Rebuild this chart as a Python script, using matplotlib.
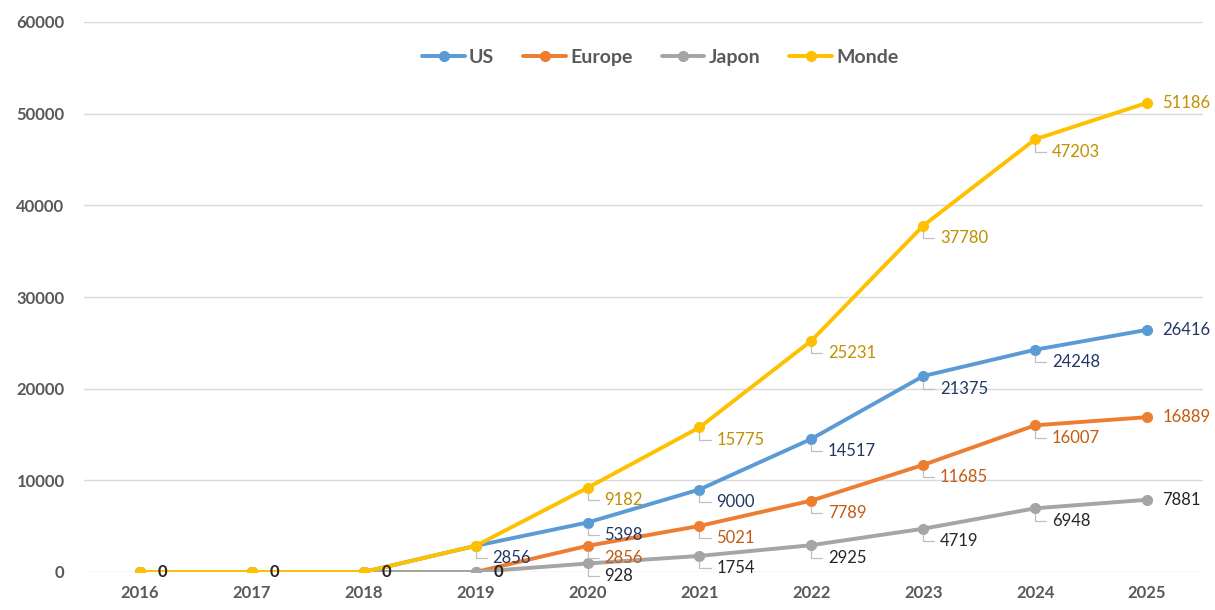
import matplotlib
matplotlib.use("Agg")
import matplotlib.pyplot as plt

years = ["2016", "2017", "2018", "2019", "2020", "2021", "2022", "2023", "2024", "2025"]
us = [0, 0, 0, 2856, 5398, 9000, 14517, 21375, 24248, 26416]
europe = [0, 0, 0, 0, 2856, 5021, 7789, 11685, 16007, 16889]
japon = [0, 0, 0, 0, 928, 1754, 2925, 4719, 6948, 7881]
monde = [0, 0, 0, 2856, 9182, 15775, 25231, 37780, 47203, 51186]
series_names = ["US", "Europe", "Japon", "Monde"]
yticks = [0, 10000, 20000, 30000, 40000, 50000, 60000]

line_colors = ["#5B9BD5", "#ED7D31", "#A5A5A5", "#FFC000"]
label_colors = ["#203864", "#C55A11", "#262626", "#BF9000"]
# which (series, index) labels are hidden
hidden = {("US", 0), ("US", 1), ("US", 2), ("Europe", 0), ("Europe", 1), ("Europe", 2),
          ("Europe", 3), ("Monde", 0), ("Monde", 1), ("Monde", 2), ("Monde", 3)}

plt.rcParams['font.family'] = ['Lato', 'DejaVu Sans']

fig = plt.figure(figsize=(12.15, 6.1), dpi=100)
ax = fig.add_axes([84 / 1215, 38 / 610, 1119 / 1215, 550 / 610])

x = list(range(len(years)))
data = [us, europe, japon, monde]
for name, vals, lc, tc in zip(series_names, data, line_colors, label_colors):
    ax.plot(x, vals, color=lc, lw=2.8, marker='o', ms=7, label=name, zorder=3,
            solid_capstyle='round')
    for i, v in enumerate(vals):
        if (name, i) in hidden:
            continue
        if v == 0:
            ax.annotate(str(v), (i, v), xytext=(13, 0), textcoords='offset points',
                        ha='left', va='center', fontsize=12, color=tc, fontweight='bold', zorder=4)
        elif i == len(vals) - 1:
            ax.annotate(str(v), (i, v), xytext=(11, 0), textcoords='offset points',
                        ha='left', va='center', fontsize=12, color=tc, zorder=4)
        else:
            ax.annotate(str(v), (i, v), xytext=(12, -9), textcoords='offset points',
                        ha='left', va='center', fontsize=12, color=tc, zorder=4,
                        arrowprops=dict(arrowstyle='-', color='#BFBFBF', lw=0.9,
                                        connectionstyle='angle,angleA=0,angleB=90',
                                        shrinkA=2, shrinkB=4))

ax.set_xlim(-0.5, len(years) - 0.5)
ax.set_ylim(0, 60000)
ax.set_xticks(x)
ax.set_xticklabels(years)
ax.set_yticks(yticks)
ax.set_yticklabels([str(t) for t in yticks])
ax.tick_params(length=0, labelsize=12, labelcolor='#595959', pad=9)
ax.tick_params(axis='y', pad=14)
for lab in ax.get_xticklabels() + ax.get_yticklabels():
    lab.set_fontweight('bold')
for s in ax.spines.values():
    s.set_visible(False)
ax.grid(axis='y', color='#D9D9D9', lw=1)
ax.set_axisbelow(True)

leg = ax.legend(loc='center', bbox_to_anchor=(0.515, 0.936), ncol=4, frameon=False,
                handlelength=2.2, columnspacing=1.5, handletextpad=0.2,
                prop={'weight': 'bold', 'size': 14})
for t in leg.get_texts():
    t.set_color('#595959')

fig.savefig("out.png", dpi=100)
